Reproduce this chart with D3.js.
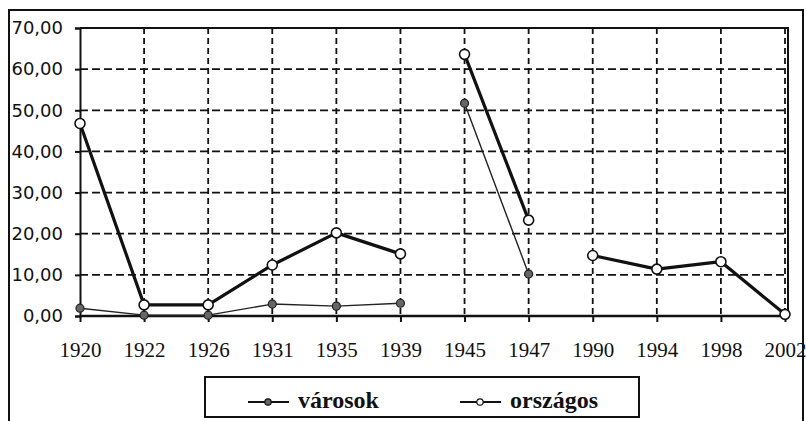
<!DOCTYPE html>
<html>
<head>
<meta charset="utf-8">
<script src="https://cdn.jsdelivr.net/npm/d3@7"></script>
<style>
  html, body { margin: 0; padding: 0; background: #fff; }
  svg { display: block; }
</style>
</head>
<body>
<div id="chart"></div>
<script>
// Data
const years = ['1920', '1922', '1926', '1931', '1935', '1939', '1945', '1947', '1990', '1994', '1998', '2002'];
const varosok = [1.9, 0.2, 0.2, 2.9, 2.4, 3.1, 51.7, 10.2, null, null, null, null];
const orszagos = [46.8, 2.7, 2.7, 12.4, 20.2, 15.1, 63.6, 23.3, 14.7, 11.4, 13.2, 0.4];
// period index of each year: the line is not drawn across periods
const periods = [0, 0, 0, 0, 0, 0, 1, 1, 2, 2, 2, 2];
const yTicks = [0, 10, 20, 30, 40, 50, 60, 70];
const seriesNames = ['városok', 'országos'];

const width = 806;
const height = 421;
const plot = { left: 80, right: 788, top: 28, bottom: 316 };

const svg = d3.select('#chart').append('svg')
    .attr('width', width)
    .attr('height', height);

// Outer frame
svg.append('rect')
    .attr('x', 9).attr('y', 10)
    .attr('width', 794).attr('height', 420)
    .attr('fill', '#fff')
    .attr('stroke', '#111')
    .attr('stroke-width', 2);

const x = d3.scalePoint().domain(years).range([plot.left, 785]);
const y = d3.scaleLinear().domain([0, 70]).range([plot.bottom, plot.top]);

const fmt = v => d3.format('.2f')(v).replace('.', ',');

// Grid
const grid = svg.append('g');
grid.selectAll('.hgrid').data(yTicks.filter(t => t > 0 && t < 70)).enter()
    .append('line')
    .attr('x1', plot.left).attr('x2', plot.right)
    .attr('y1', d => y(d)).attr('y2', d => y(d))
    .attr('stroke', '#111').attr('stroke-width', 1.8)
    .attr('stroke-dasharray', '8,4');
grid.selectAll('.vgrid').data(years.slice(1)).enter()
    .append('line')
    .attr('x1', d => x(d)).attr('x2', d => x(d))
    .attr('y1', plot.top).attr('y2', plot.bottom)
    .attr('stroke', '#111').attr('stroke-width', 1.8)
    .attr('stroke-dasharray', '6,4');

// Plot border (top, right) and axes
svg.append('path')
    .attr('d', `M${plot.left},${plot.top}H${plot.right}V${plot.bottom}`)
    .attr('fill', 'none').attr('stroke', '#111').attr('stroke-width', 2);

const yAxis = svg.append('g')
    .attr('transform', `translate(${plot.left},0)`)
    .call(d3.axisLeft(y).tickValues(yTicks).tickFormat(fmt).tickSize(5).tickPadding(12));
yAxis.select('.domain').attr('stroke', '#111').attr('stroke-width', 2);
yAxis.selectAll('.tick line').attr('stroke', '#111').attr('stroke-width', 2);
yAxis.selectAll('text')
    .attr('fill', '#111')
    .style('font-family', '"DejaVu Sans", sans-serif')
    .style('font-size', '18px');

const xAxis = svg.append('g')
    .attr('transform', `translate(0,${plot.bottom})`)
    .call(d3.axisBottom(x).tickSize(6).tickPadding(0));
xAxis.select('.domain')
    .attr('d', `M${plot.left},0H${plot.right}`)
    .attr('stroke', '#111').attr('stroke-width', 2.5);
xAxis.selectAll('.tick line').attr('stroke', '#111').attr('stroke-width', 2);
xAxis.selectAll('text')
    .attr('fill', '#111')
    .attr('dy', null)
    .attr('y', 41)
    .style('font-family', '"Liberation Serif", serif')
    .style('font-size', '21px');

// Lines, broken between periods
const line = d3.line()
    .x(d => x(d.year))
    .y(d => y(d.v));

const toData = vals => years.map((yr, i) => ({ year: yr, v: vals[i], p: periods[i] }));
const varData = toData(varosok);
const orsData = toData(orszagos);

function drawSeries(data, stroke, width) {
    const groups = d3.groups(data.filter(d => d.v != null), d => d.p);
    svg.append('g').selectAll('path').data(groups).enter()
        .append('path')
        .attr('d', g => line(g[1]))
        .attr('fill', 'none').attr('stroke', stroke).attr('stroke-width', width)
        .attr('stroke-linejoin', 'round');
}
drawSeries(varData, '#222', 1.4);
drawSeries(orsData, '#111', 3.2);

svg.selectAll('.mv').data(varData.filter(d => d.v != null)).enter()
    .append('circle')
    .attr('cx', d => x(d.year)).attr('cy', d => y(d.v))
    .attr('r', 4)
    .attr('fill', '#666').attr('stroke', '#222').attr('stroke-width', 1.2);

svg.selectAll('.mo').data(orsData.filter(d => d.v != null)).enter()
    .append('circle')
    .attr('cx', d => x(d.year)).attr('cy', d => y(d.v))
    .attr('r', 5)
    .attr('fill', '#fff').attr('stroke', '#111').attr('stroke-width', 1.6);

// Legend
const legend = svg.append('g');
legend.append('rect')
    .attr('x', 205).attr('y', 377)
    .attr('width', 434).attr('height', 40)
    .attr('fill', '#fff').attr('stroke', '#111').attr('stroke-width', 2);

const legendItems = [
    { name: seriesNames[0], x: 248, fill: '#666', width: 1.8 },
    { name: seriesNames[1], x: 460, fill: '#fff', width: 1.8 }
];
legendItems.forEach(it => {
    legend.append('line')
        .attr('x1', it.x).attr('x2', it.x + 41)
        .attr('y1', 402).attr('y2', 402)
        .attr('stroke', '#111').attr('stroke-width', it.width);
    legend.append('circle')
        .attr('cx', it.x + 20).attr('cy', 402).attr('r', 3.2)
        .attr('fill', it.fill).attr('stroke', '#111').attr('stroke-width', 1.2);
    legend.append('text')
        .attr('x', it.x + 50).attr('y', 408)
        .attr('fill', '#111')
        .style('font-family', '"Liberation Serif", serif')
        .style('font-weight', 'bold')
        .style('font-size', '24px')
        .text(it.name);
});
</script>
</body>
</html>
